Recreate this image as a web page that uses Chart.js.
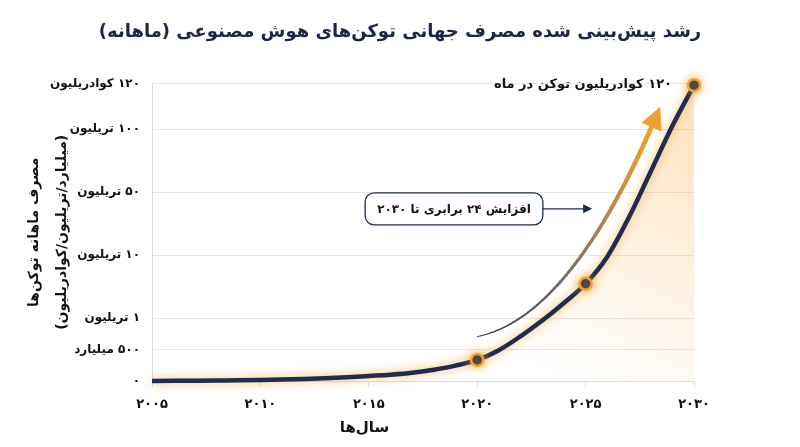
<!DOCTYPE html>
<html>
<head>
<meta charset="utf-8">
<script src="https://cdn.jsdelivr.net/npm/chart.js@4.4.1/dist/chart.umd.min.js"></script>
<style>
  html, body { margin: 0; background: #fff; }
  #wrap { width: 800px; height: 447px; }
</style>
</head>
<body>
<div id="wrap"><canvas id="c" dir="rtl"></canvas></div>
<script>
// data (y is the position on the custom, uneven axis)
const years = [2005, 2006, 2007, 2008, 2009, 2010, 2011, 2012, 2013, 2014, 2015, 2016, 2017,
  2018, 2019, 2020, 2021, 2022, 2023, 2024, 2025, 2026, 2027, 2028, 2029, 2030];
const tokens = [0, 0.005, 0.01, 0.015, 0.02, 0.03, 0.045, 0.065, 0.09, 0.12, 0.16, 0.2, 0.26,
  0.36, 0.49, 0.67, 0.98, 1.42, 1.92, 2.48, 3.09, 3.95, 5.2, 6.65, 8.1, 9.4];
const markerYears = [2020, 2025, 2030];

const xTicks = [2005, 2010, 2015, 2020, 2025, 2030];
const xTickLabels = ['۲۰۰۵', '۲۰۱۰', '۲۰۱۵', '۲۰۲۰', '۲۰۲۵', '۲۰۳۰'];
const yTicks = [0, 1, 2, 4, 6, 8, 9.45];
const yTickLabels = ['۰', '۵۰۰ میلیارد', '۱ تریلیون', '۱۰ تریلیون', '۵۰ تریلیون', '۱۰۰ تریلیون', '۱۲۰ کوادریلیون'];

const chartTitle = 'رشد پیش‌بینی شده مصرف جهانی توکن‌های هوش مصنوعی (ماهانه)';
const xTitle = 'سال‌ها';
const yTitle = ['مصرف ماهانه توکن‌ها', '(میلیارد/تریلیون/کوادریلیون)'];
const peakLabel = '۱۲۰ کوادریلیون توکن در ماه';
const growthLabel = 'افزایش ۲۴ برابری تا ۲۰۳۰';

const NAVY = '#1e2c52';
const ORANGE = '#f2a22e';
const FONT = "'DejaVu Sans', sans-serif";

// orange halo on the line and markers
const glow = {
  id: 'glow',
  beforeDatasetDraw(chart) {
    const c = chart.ctx;
    c.save();
    c.shadowColor = 'rgba(245,160,40,0.8)';
    c.shadowBlur = 10;
  },
  afterDatasetDraw(chart) { chart.ctx.restore(); }
};

function mix(a, b, t) {
  const pa = a.match(/\w\w/g).map(h => parseInt(h, 16));
  const pb = b.match(/\w\w/g).map(h => parseInt(h, 16));
  return 'rgb(' + pa.map((v, i) => Math.round(v + (pb[i] - v) * t)).join(',') + ')';
}

const notes = {
  id: 'notes',
  afterDatasetsDraw(chart) {
    const { ctx, scales: { x, y } } = chart;
    const px = v => x.getPixelForValue(v), py = v => y.getPixelForValue(v);
    ctx.save();
    ctx.direction = 'rtl';

    // curved growth arrow
    const p0 = [px(2020.0), py(1.41)], p1 = [px(2024.2), py(2.0)], p2 = [px(2028.04), py(8.07)];
    const pt = t => [
      (1 - t) * (1 - t) * p0[0] + 2 * (1 - t) * t * p1[0] + t * t * p2[0],
      (1 - t) * (1 - t) * p0[1] + 2 * (1 - t) * t * p1[1] + t * t * p2[1]
    ];
    const N = 60;
    ctx.lineCap = 'round';
    for (let i = 0; i < N; i++) {
      const t0 = i / N, t1 = (i + 1) / N;
      const a = pt(t0), b = pt(t1);
      ctx.beginPath();
      ctx.moveTo(a[0], a[1]);
      ctx.lineTo(b[0], b[1]);
      ctx.lineWidth = 0.8 + 4 * t1;
      ctx.strokeStyle = t1 < 0.5 ? mix('1e2c52', '77706a', t1 / 0.5) : mix('77706a', 'f0a02c', (t1 - 0.5) / 0.5);
      ctx.stroke();
    }
    let dx = p2[0] - p1[0], dy = p2[1] - p1[1];
    const len = Math.hypot(dx, dy); dx /= len; dy /= len;
    const tip = [p2[0] + dx * 22, p2[1] + dy * 22];
    ctx.beginPath();
    ctx.moveTo(tip[0], tip[1]);
    ctx.lineTo(p2[0] - dy * 11, p2[1] + dx * 11);
    ctx.lineTo(p2[0] + dy * 11, p2[1] - dx * 11);
    ctx.closePath();
    ctx.fillStyle = '#f0a02c';
    ctx.fill();

    // growth box with pointer
    ctx.font = 'bold 12px ' + FONT;
    const tw = ctx.measureText(growthLabel).width;
    const bw = tw + 24, bh = 32;
    const cx = px(2018.93), cy = py(5.47);
    const bx = cx - bw / 2, by = cy - bh / 2;
    ctx.beginPath();
    ctx.roundRect(bx, by, bw, bh, 9);
    ctx.fillStyle = '#fff';
    ctx.fill();
    ctx.lineWidth = 1.3;
    ctx.strokeStyle = NAVY;
    ctx.stroke();
    ctx.fillStyle = '#111';
    ctx.textAlign = 'center';
    ctx.textBaseline = 'middle';
    ctx.fillText(growthLabel, cx, cy + 1);
    const ax = px(2025.3);
    ctx.beginPath();
    ctx.moveTo(bx + bw, cy);
    ctx.lineTo(ax - 6, cy);
    ctx.stroke();
    ctx.beginPath();
    ctx.moveTo(ax, cy);
    ctx.lineTo(ax - 9, cy - 4.5);
    ctx.lineTo(ax - 9, cy + 4.5);
    ctx.closePath();
    ctx.fillStyle = NAVY;
    ctx.fill();

    // peak label
    ctx.font = 'bold 13px ' + FONT;
    ctx.fillStyle = '#111';
    ctx.textAlign = 'right';
    ctx.fillText(peakLabel, px(2030) - 22, py(9.45) + 1);

    // x axis title
    ctx.font = 'bold 15px ' + FONT;
    ctx.textAlign = 'center';
    ctx.fillStyle = '#111';
    ctx.fillText(xTitle, px(2014.8), 428);
    ctx.restore();
  }
};

new Chart(document.getElementById('c'), {
  type: 'line',
  data: {
    datasets: [{
      data: years.map((yr, i) => ({ x: yr, y: tokens[i] })),
      borderColor: NAVY,
      borderWidth: 4.5,
      cubicInterpolationMode: 'monotone',
      clip: false,
      fill: 'origin',
      backgroundColor: ctx => {
        const { chartArea, scales } = ctx.chart;
        if (!chartArea) return 'rgba(0,0,0,0)';
        const g = ctx.chart.ctx.createLinearGradient(scales.x.getPixelForValue(2024), chartArea.bottom, chartArea.right, chartArea.top + 40);
        g.addColorStop(0, 'rgba(248,172,70,0)');
        g.addColorStop(1, 'rgba(248,172,70,0.32)');
        return g;
      },
      pointRadius: ctx => (ctx.raw && markerYears.includes(ctx.raw.x)) ? 6 : 0,
      pointBackgroundColor: NAVY,
      pointBorderColor: ORANGE,
      pointBorderWidth: 2.5,
      pointHoverRadius: 0
    }]
  },
  options: {
    responsive: true,
    maintainAspectRatio: false,
    animation: false,
    layout: { padding: 0 },
    plugins: {
      legend: { display: false },
      tooltip: { enabled: false },
      title: {
        display: true,
        text: chartTitle,
        color: '#1c2548',
        font: { family: FONT, size: 18, weight: 'bold' },
        padding: { top: 22, bottom: 40 }
      }
    },
    scales: {
      x: {
        type: 'linear',
        min: 2005,
        max: 2030,
        afterBuildTicks: s => { s.ticks = xTicks.map(v => ({ value: v })); },
        afterFit: s => { s.height = 66; },
        ticks: {
          callback: v => xTickLabels[xTicks.indexOf(v)],
          color: '#111',
          font: { family: FONT, size: 13, weight: 'bold' },
          padding: 10,
          maxRotation: 0
        },
        grid: { drawOnChartArea: false, drawTicks: true, tickLength: 6, color: '#dcdcdc' },
        border: { color: '#dcdcdc' }
      },
      y: {
        type: 'linear',
        min: 0,
        max: 9.45,
        afterBuildTicks: s => { s.ticks = yTicks.map(v => ({ value: v })); },
        afterFit: s => { s.width = 152; },
        ticks: {
          callback: v => yTickLabels[yTicks.indexOf(v)],
          color: '#111',
          font: { family: FONT, size: 12, weight: 'bold' },
          padding: 12
        },
        grid: { color: '#e6e6e6', drawTicks: false },
        border: { color: '#dcdcdc' },
        title: {
          display: true,
          text: yTitle,
          color: '#111',
          font: { family: FONT, size: 14, weight: 'bold', lineHeight: 2 },
          padding: { top: 20, bottom: 0 }
        }
      },
      // empty right margin so the title centres on the whole picture
      yRight: {
        position: 'right',
        min: 0,
        max: 9.45,
        afterFit: s => { s.width = 106; },
        ticks: { display: false },
        grid: { display: false },
        border: { display: false }
      }
    }
  },
  plugins: [glow, notes]
});
</script>
</body>
</html>
